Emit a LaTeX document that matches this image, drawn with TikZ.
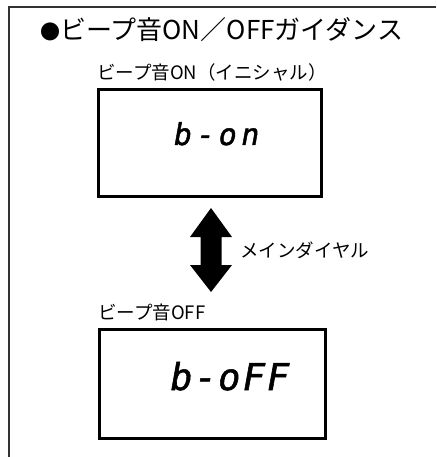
\documentclass[tikz,border=0pt]{standalone}
\usepackage{fontspec}
\setmainfont{Noto Sans CJK JP}
\newfontfamily\segfont[FakeSlant=0.18,FakeBold=1.5]{DejaVu Sans Mono}
\usetikzlibrary{positioning}

\begin{document}
\begin{tikzpicture}[x=1pt,y=-1pt]
  \tikzstyle{display}=[draw,line width=3pt,inner sep=0]
  \tikzstyle{caption}=[anchor=west,inner sep=0,font=\fontsize{18.5}{20}\selectfont]
  \useasboundingbox (0,0) rectangle (436,457);
  % frame
  \draw[line width=1.2pt,black!80] (9,457) -- (9,7) -- (436,7);
  \node[anchor=west,inner sep=0,font=\fontsize{26}{28}\selectfont] (title) at (40,30) {{\fontsize{20}{20}\selectfont ●}ビープ音ON／OFFガイダンス};
  % beep on
  \node[caption] (onlabel) at (97,72) {ビープ音ON（イニシャル）};
  \node[display,minimum width=223pt,minimum height=107pt] (onbox) at (210,143) {};
  \node[anchor=base,inner sep=0,font=\segfont\fontsize{30}{32}\selectfont\addfontfeature{LetterSpace=15}] (ontext) at (215,145) {b-on};
  % dial
  \coordinate (dial) at (211,250);
  \fill[shift={(dial)}] (0,-42) -- (21,-13) -- (10.5,-13) -- (10.5,15) -- (21,15) -- (0,42)
    -- (-21,15) -- (-10.5,15) -- (-10.5,-13) -- (-21,-13) -- cycle;
  \node[caption,right=29pt of dial] (diallabel) {メインダイヤル};
  % beep off
  \node[caption] (offlabel) at (98,312) {ビープ音OFF};
  \node[display,minimum width=226pt,minimum height=109pt] (offbox) at (212.5,384) {};
  \node[anchor=base,inner sep=0,font=\segfont\fontsize{37}{40}\selectfont\addfontfeature{LetterSpace=5}] (offtext) at (227.5,390) {b-oFF};
\end{tikzpicture}
\end{document}
